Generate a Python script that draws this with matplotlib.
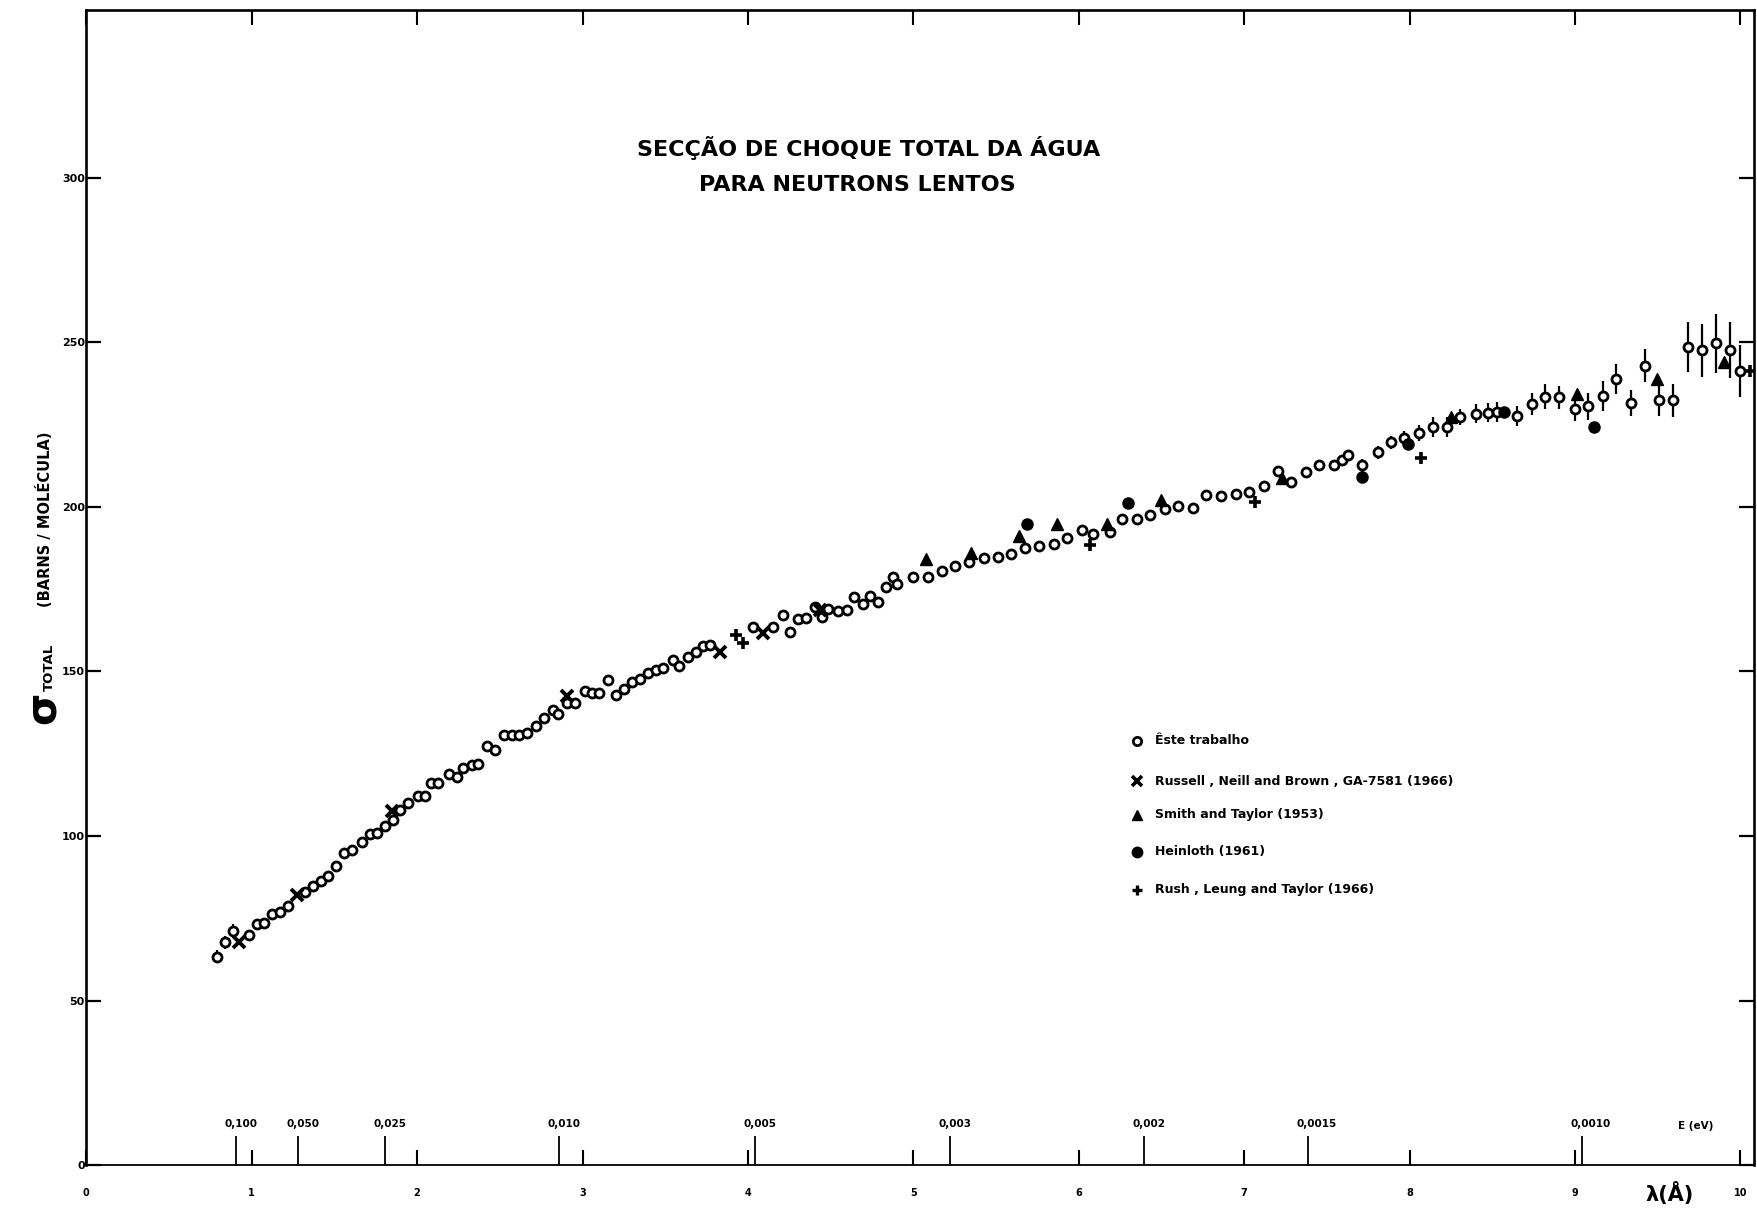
import numpy as np
import matplotlib.pyplot as plt

# Êste trabalho: comprimento de onda (Å), secção de choque (barns/molécula), erro
lam_este = [0.79, 0.84, 0.889, 0.985, 1.034, 1.074, 1.12, 1.17, 1.221, 1.322, 1.372,
            1.417, 1.463, 1.508, 1.558, 1.608, 1.665, 1.715, 1.76, 1.806, 1.852, 1.897,
            1.947, 2.007, 2.05, 2.082, 2.128, 2.19, 2.24, 2.28, 2.33, 2.37, 2.42, 2.47,
            2.525, 2.572, 2.618, 2.663, 2.719, 2.769, 2.82, 2.854, 2.908, 2.955, 3.015,
            3.056, 3.10, 3.156, 3.20, 3.25, 3.297, 3.348, 3.398, 3.444, 3.489, 3.545,
            3.585, 3.64, 3.686, 3.73, 3.77, 4.03, 4.153, 4.214, 4.255, 4.305, 4.351,
            4.406, 4.446, 4.486, 4.547, 4.597, 4.641, 4.694, 4.738, 4.785, 4.835, 4.879,
            4.90, 4.997, 5.087, 5.173, 5.252, 5.339, 5.427, 5.51, 5.59, 5.675, 5.762,
            5.85, 5.931, 6.018, 6.088, 6.19, 6.264, 6.354, 6.431, 6.522, 6.598, 6.689,
            6.768, 6.858, 6.951, 7.028, 7.117, 7.207, 7.282, 7.373, 7.453, 7.544, 7.59,
            7.63, 7.71, 7.808, 7.886, 7.967, 8.057, 8.144, 8.228, 8.305, 8.40, 8.473,
            8.527, 8.652, 8.739, 8.82, 8.906, 9.0, 9.08, 9.17, 9.248, 9.337, 9.424,
            9.508, 9.595, 9.686, 9.77, 9.853, 9.938, 10.0]
sig_este = [63.3, 67.7, 71.2, 69.9, 73.3, 73.5, 76.2, 76.8, 78.7, 82.9, 84.8,
            86.4, 87.8, 90.9, 95.0, 95.7, 98.2, 100.5, 100.8, 103.0, 105.0, 107.9,
            109.9, 112.2, 112.2, 116.0, 116.2, 118.9, 118.0, 120.8, 121.7, 122.0, 127.3, 126.1,
            130.8, 130.8, 130.6, 131.4, 133.4, 135.9, 138.2, 137.0, 140.4, 140.4, 144.0,
            143.5, 143.5, 147.3, 142.8, 144.8, 146.8, 147.8, 149.4, 150.4, 150.9, 153.4,
            151.6, 154.4, 155.9, 157.6, 158.0, 163.5, 163.5, 167.1, 162.0, 165.8, 166.1,
            169.6, 166.4, 168.9, 168.3, 168.6, 172.6, 170.6, 172.8, 171.1, 175.5, 178.7,
            176.7, 178.7, 178.7, 180.5, 181.9, 183.2, 184.5, 184.8, 185.8, 187.6, 188.0,
            188.6, 190.6, 192.9, 191.7, 192.4, 196.2, 196.4, 197.4, 199.2, 200.2, 199.6,
            203.7, 203.3, 203.8, 204.5, 206.2, 210.8, 207.5, 210.6, 212.6, 212.6, 214.3,
            215.6, 212.6, 216.6, 219.6, 221.0, 222.4, 224.2, 224.2, 227.3, 228.3, 228.6,
            228.8, 227.5, 231.2, 233.4, 233.2, 229.7, 230.5, 233.6, 238.9, 231.5, 242.9,
            232.5, 232.3, 248.5, 247.5, 249.7, 247.5, 241.2]
err_este = [2, 2, 2] + [0] * 109 + [2, 2, 2, 2, 2.5, 3, 3, 2.5, 3, 3,
                                    3, 3, 3.3, 3.8, 3.5, 3.5, 4, 4.5, 4.5, 4, 5,
                                    5, 5, 7.5, 8, 9, 8.5, 8]

# Russell, Neill and Brown
lam_russell = [0.925, 1.272, 1.846, 2.908, 3.83, 4.09, 4.436]
sig_russell = [67.9, 82.1, 107.6, 142.5, 155.9, 161.6, 168.6]

# Smith and Taylor
lam_smith = [5.075, 5.349, 5.639, 5.867, 6.17, 6.496, 7.228, 8.25, 9.015, 9.494, 9.90]
sig_smith = [184.1, 186.0, 191.1, 194.9, 194.9, 202.2, 208.6, 227.3, 234.4, 238.9, 244.0]

# Heinloth
lam_hein = [5.69, 6.30, 7.71, 7.99, 8.57, 9.117]
sig_hein = [194.9, 201.2, 209.0, 219.2, 228.8, 224.2]

# Rush, Leung and Taylor
lam_rush = [3.93, 3.97, 6.068, 7.068, 8.068, 10.06]
sig_rush = [161.0, 158.5, 188.3, 201.5, 214.9, 241.2]

# escala de energia (eV)
energias = [0.100, 0.050, 0.025, 0.010, 0.005, 0.003, 0.002, 0.0015, 0.0010]
energia_labels = ['0,100', '0,050', '0,025', '0,010', '0,005', '0,003', '0,002', '0,0015', '0,0010']

y_ticks = [0, 50, 100, 150, 200, 250, 300]
x_ticks = list(range(0, 11))

legenda = ['Êste trabalho',
           'Russell , Neill and Brown , GA-7581 (1966)',
           'Smith and Taylor (1953)',
           'Heinloth (1961)',
           'Rush , Leung and Taylor (1966)']

plt.rcParams['font.family'] = ['DejaVu Sans']
plt.rcParams['font.weight'] = 'bold'

fig = plt.figure(figsize=(17.57, 12.14), dpi=100)
ax = fig.add_axes([0.0491, 0.0401, 0.949, 0.952])
ax.set_xlim(0, 10.08)
ax.set_ylim(0, 351)

for s in ax.spines.values():
    s.set_linewidth(1.9)
ax.spines['bottom'].set_linewidth(1.3)

ax.set_yticks(y_ticks)
ax.set_yticklabels([str(v) for v in y_ticks], fontsize=8, fontweight='bold')
ax.set_xticks(x_ticks)
ax.set_xticklabels([str(v) for v in x_ticks], fontsize=7, fontweight='bold')
ax.tick_params(axis='y', left=True, right=True, direction='in', length=11, width=1.6, pad=1)
ax.tick_params(axis='x', bottom=True, top=True, direction='in', length=11, width=1.5, pad=16)

# marcas de energia sobre o eixo de comprimento de onda
lam_E = [0.286 / np.sqrt(e) for e in energias]
ax.vlines(lam_E, 0, 9, colors='black', lw=1.3)
for x, lab in zip(lam_E, energia_labels):
    ax.text(x - 0.07, 12.6, lab, fontsize=7.5, fontweight='bold', ha='left', va='center')
ax.text(9.62, 12.0, 'E (eV)', fontsize=7.5, fontweight='bold', ha='left', va='center')
ax.text(9.57, -8.5, 'λ(Å)', fontsize=15, fontweight='bold', ha='center', va='center', clip_on=False)

# pontos experimentais
ax.errorbar(lam_este, sig_este, yerr=err_este, fmt='o', mfc='white', mec='black',
            ecolor='black', elinewidth=1.6, capsize=0, ms=6.5, mew=2.0, zorder=3)
ax.plot(lam_russell, sig_russell, 'x', color='black', ms=8.5, mew=2.8, zorder=4)
ax.plot(lam_smith, sig_smith, '^', color='black', ms=8, zorder=4)
ax.plot(lam_hein, sig_hein, 'o', color='black', ms=8, zorder=4)
ax.plot(lam_rush, sig_rush, '+', color='black', ms=8.5, mew=2.6, zorder=4)

# legenda
leg_y = [128.9, 116.7, 106.5, 95.2, 83.7]
leg_style = [dict(marker='o', mfc='white', mec='black', ms=6, mew=2.0),
             dict(marker='x', color='black', ms=7, mew=2.6),
             dict(marker='^', color='black', ms=7.5),
             dict(marker='o', color='black', ms=7.5),
             dict(marker='+', color='black', ms=7.5, mew=2.4)]
for y, lab, st in zip(leg_y, legenda, leg_style):
    ax.plot([6.355], [y], linestyle='none', **st)
    ax.text(6.46, y, lab, fontsize=9, fontweight='bold', ha='left', va='center')

# título
ax.text(4.73, 309, 'SECÇÃO DE CHOQUE TOTAL DA ÁGUA', fontsize=16, fontweight='heavy',
        ha='center', va='center')
ax.text(4.66, 297.7, 'PARA NEUTRONS LENTOS', fontsize=16, fontweight='heavy',
        ha='center', va='center')

# título do eixo vertical
ax.text(-0.264, 138.8, 'σ', fontsize=30, rotation=90, ha='center', va='center', clip_on=False)
ax.text(-0.222, 151.3, 'TOTAL', fontsize=9.5, fontweight='bold', rotation=90,
        ha='center', va='center', clip_on=False)
ax.text(-0.251, 196.2, '(BARNS / MOLÉCULA)', fontsize=10.5, fontweight='bold', rotation=90,
        ha='center', va='center', clip_on=False)

fig.savefig('out.png', dpi=100)
